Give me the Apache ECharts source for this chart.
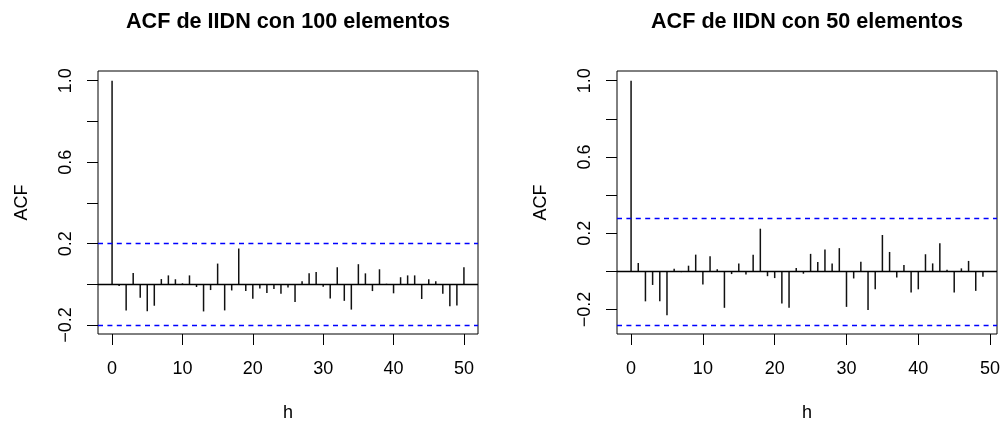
<!DOCTYPE html>
<html>
<head>
<meta charset="utf-8">
<script src="https://cdn.jsdelivr.net/npm/echarts@6/dist/echarts.min.js"></script>
<style>
  html, body { margin: 0; padding: 0; background: #fff; }
  #chart { width: 1000px; height: 421px; }
</style>
</head>
<body>
<div id="chart"></div>
<script>
// Sample autocorrelations of an IID normal series, n = 100 (lags 0..50)
const lags100 = [0,1,2,3,4,5,6,7,8,9,10,11,12,13,14,15,16,17,18,19,20,21,22,23,24,25,
  26,27,28,29,30,31,32,33,34,35,36,37,38,39,40,41,42,43,44,45,46,47,48,49,50];
const acf100 = [1.0,-0.008,-0.128,0.056,-0.066,-0.132,-0.105,0.026,0.044,0.025,0.005,
  0.044,-0.013,-0.133,-0.028,0.102,-0.128,-0.030,0.176,-0.033,-0.071,-0.020,-0.043,
  -0.023,-0.046,-0.016,-0.087,0.015,0.054,0.061,-0.012,-0.069,0.084,-0.081,-0.124,
  0.099,0.054,-0.033,0.074,0.003,-0.044,0.035,0.044,0.044,-0.072,0.025,0.015,-0.046,
  -0.107,-0.104,0.084];

// Sample autocorrelations, n = 50 (lags 0..49)
const lags50 = [0,1,2,3,4,5,6,7,8,9,10,11,12,13,14,15,16,17,18,19,20,21,22,23,24,25,
  26,27,28,29,30,31,32,33,34,35,36,37,38,39,40,41,42,43,44,45,46,47,48,49];
const acf50 = [1.0,0.044,-0.157,-0.071,-0.157,-0.230,0.014,-0.004,0.030,0.088,-0.069,
  0.080,0.011,-0.191,-0.014,0.041,-0.016,0.088,0.224,-0.025,-0.035,-0.168,-0.191,0.018,
  -0.012,0.092,0.049,0.115,0.042,0.122,-0.186,-0.037,0.051,-0.203,-0.094,0.191,0.102,
  -0.032,0.034,-0.111,-0.094,0.090,0.042,0.148,0.009,-0.111,0.016,0.055,-0.102,-0.028];

// 95% white-noise bounds (1.96 / sqrt(n))
const ciBound = [0.196, 0.2772];

const titles = ['ACF de IIDN con 100 elementos', 'ACF de IIDN con 50 elementos'];
const xTicks = [0, 10, 20, 30, 40, 50];
const yTicks = [-0.2, 0, 0.2, 0.4, 0.6, 0.8, 1.0];
const yTickLabels = [-0.2, 0.2, 0.6, 1.0];

const FONT = '"Liberation Sans", Arial, Helvetica, sans-serif';

function fmtY(v) {
  const s = Math.abs(v).toFixed(1);
  return v < 0 ? '\u2212' + s : s;
}

// axis ranges padded 4% as in base graphics
function padRange(lo, hi) {
  const d = (hi - lo) * 0.04;
  return [lo - d, hi + d];
}

const panels = [
  { lags: lags100, acf: acf100, ci: ciBound[0], left: 98, title: titles[0] },
  { lags: lags50, acf: acf50, ci: ciBound[1], left: 617, title: titles[1] }
];
const plotW = 380, plotTop = 71, plotH = 263;

const option = {
  animation: false,
  backgroundColor: '#fff',
  title: [], grid: [], xAxis: [], yAxis: [], series: []
};

panels.forEach((p, i) => {
  const xr = padRange(p.lags[0], p.lags[p.lags.length - 1]);
  const yr = padRange(Math.min(-p.ci, ...p.acf), Math.max(p.ci, ...p.acf));
  option.title.push({
    text: p.title,
    left: p.left + plotW / 2,
    top: 22,
    padding: 0,
    textAlign: 'center',
    textVerticalAlign: 'middle',
    textStyle: { fontFamily: FONT, fontSize: 21.6, fontWeight: 'bold', color: '#000' }
  });
  option.grid.push({
    left: p.left, top: plotTop, width: plotW, height: plotH,
    containLabel: false, outerBoundsMode: 'none',
    show: true, borderColor: '#000', borderWidth: 1, backgroundColor: 'transparent'
  });
  option.xAxis.push({
    type: 'value', gridIndex: i, min: xr[0], max: xr[1],
    name: 'h', nameLocation: 'middle', nameGap: 79,
    nameTextStyle: { fontFamily: FONT, fontSize: 18, color: '#000', verticalAlign: 'middle' },
    axisLine: { show: false, onZero: false },
    splitLine: { show: false },
    axisTick: { show: true, inside: false, length: 11, customValues: xTicks,
      lineStyle: { color: '#000', width: 1 } },
    axisLabel: { show: true, customValues: xTicks, margin: 35.5, verticalAlign: 'middle',
      fontFamily: FONT, fontSize: 18, color: '#000' }
  });
  option.yAxis.push({
    type: 'value', gridIndex: i, min: yr[0], max: yr[1],
    name: 'ACF', nameLocation: 'middle', nameGap: 76, nameRotate: 90,
    nameTextStyle: { fontFamily: FONT, fontSize: 18, color: '#000', verticalAlign: 'middle', align: 'center' },
    axisLine: { show: false, onZero: false },
    splitLine: { show: false },
    axisTick: { show: true, inside: false, length: 11, customValues: yTicks,
      lineStyle: { color: '#000', width: 1 } },
    axisLabel: { show: true, customValues: yTickLabels, rotate: 90, margin: 32,
      align: 'center', verticalAlign: 'middle',
      fontFamily: FONT, fontSize: 18, color: '#000', formatter: fmtY }
  });
  option.series.push({
    type: 'bar', xAxisIndex: i, yAxisIndex: i,
    barWidth: 1.5,
    itemStyle: { color: '#111' },
    data: p.lags.map((h, k) => [h, p.acf[k]]),
    markLine: {
      silent: true, symbol: 'none', animation: false,
      label: { show: false },
      data: [
        { yAxis: 0, lineStyle: { color: '#000', width: 1.4, type: 'solid' } },
        { yAxis: p.ci, lineStyle: { color: '#0000ff', width: 1.4, type: [5, 4.4] } },
        { yAxis: -p.ci, lineStyle: { color: '#0000ff', width: 1.4, type: [5, 4.4] } }
      ]
    }
  });
});

const chart = echarts.init(document.getElementById('chart'), null, { renderer: 'canvas' });
chart.setOption(option);
</script>
</body>
</html>
